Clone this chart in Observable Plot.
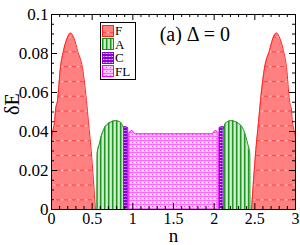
<!DOCTYPE html>
<html><head><meta charset="utf-8">
<script src="https://cdn.jsdelivr.net/npm/d3@7"></script>
<script src="https://cdn.jsdelivr.net/npm/@observablehq/plot@0.6"></script>
<style>
body{margin:0;background:#fff;}
#wrap{position:relative;width:300px;height:245px;font-family:"Liberation Serif",serif;}
#legend{position:absolute;left:100px;top:22px;width:34px;height:56px;border:1px solid #000;background:#fff;}
.row{position:absolute;left:1px;width:33px;height:13px;font-size:13px;line-height:13px;}
.row svg{position:absolute;left:0;top:0.5px;}
.row span{position:absolute;left:13px;top:0;}
</style></head><body><div id="wrap"></div>
<script>
// F (left and right)
const fLeftN = [0, 0.02, 0.037, 0.05, 0.074, 0.11, 0.148, 0.19, 0.234, 0.28, 0.32, 0.38, 0.43, 0.455, 0.488, 0.516, 0.54];
const fLeftE = [0.036, 0.041, 0.0446, 0.051, 0.0559, 0.0728, 0.0815, 0.0875, 0.0905, 0.0875, 0.0815, 0.0728, 0.0559, 0.0446, 0.0303, 0.0149, 0];
const fRightN = [2.46, 2.484, 2.512, 2.545, 2.57, 2.62, 2.68, 2.72, 2.766, 2.81, 2.852, 2.89, 2.926, 2.95, 2.963, 2.98, 3];
const fRightE = [0, 0.0149, 0.0303, 0.0446, 0.0559, 0.0728, 0.0815, 0.0875, 0.0905, 0.0875, 0.0815, 0.0728, 0.0559, 0.051, 0.0446, 0.041, 0.036];
// A
const aLeftN = [0.5599, 0.562, 0.59, 0.623, 0.66, 0.705, 0.75, 0.787, 0.82, 0.848, 0.875, 0.889];
const aLeftE = [0, 0.0287, 0.034, 0.0391, 0.0425, 0.0443, 0.0452, 0.0456, 0.0453, 0.0448, 0.043, 0.0414];
const aRightN = [2.111, 2.125, 2.152, 2.18, 2.213, 2.25, 2.295, 2.34, 2.377, 2.41, 2.438, 2.4401];
const aRightE = [0.0414, 0.043, 0.0448, 0.0453, 0.0456, 0.0452, 0.0443, 0.0425, 0.0391, 0.034, 0.0287, 0];
// C
const cLeftN = [0.8891, 0.8895, 0.937, 0.9375];
const cLeftE = [0, 0.0425, 0.042, 0];
const cRightN = [2.0625, 2.063, 2.1105, 2.1109];
const cRightE = [0, 0.042, 0.0425, 0];
// FL
const flN = [0.951, 0.952, 0.97, 0.99, 1.01, 1.03, 1.5, 1.97, 1.99, 2.01, 2.03, 2.048, 2.049];
const flE = [0, 0.039, 0.0402, 0.0405, 0.0394, 0.0388, 0.0388, 0.0388, 0.0394, 0.0405, 0.0402, 0.039, 0];
// axes
const xMajor = [0, 0.5, 1, 1.5, 2, 2.5, 3];
const xMinor = d3.range(0, 31).map(i => i / 10);
const yMajor = [0, 0.02, 0.04, 0.06, 0.08, 0.1];
const yMinor = d3.range(0, 21).map(i => i * 0.005);
const yTickLabels = ["0", "0.02", "0.04", "0.06", "0.08", "0.1"];
const legendNames = ["F", "A", "C", "FL"];
const legendPats = ["patF", "patA", "patC", "patFL"];
const legendStrokes = ["#ff2020", "#169016", "#8a00d0", "#ff00ff"];
const panelText = "(a) \u0394 = 0";

const zip = (N, E) => N.map((n, i) => ({n, e: E[i]}));
const series = [
  {d: zip(fLeftN, fLeftE), fill: "url(#patF)", stroke: "#ff2020"},
  {d: zip(fRightN, fRightE), fill: "url(#patF)", stroke: "#ff2020"},
  {d: zip(aLeftN, aLeftE), fill: "url(#patA)", stroke: "#169016"},
  {d: zip(aRightN, aRightE), fill: "url(#patA)", stroke: "#169016"},
  {d: zip(cLeftN, cLeftE), fill: "url(#patC)", stroke: "#8a00d0"},
  {d: zip(cRightN, cRightE), fill: "url(#patC)", stroke: "#8a00d0"},
  {d: zip(flN, flE), fill: "url(#patFL)", stroke: "#ff00ff"}
];
const W = 300, H = 245, mL = 51, mR = 5, mT = 14, mB = 36;
const pw = W - mL - mR, ph = H - mT - mB;
const marks = [];
for (const s of series) {
  marks.push(Plot.areaY(s.d, {x: "n", y: "e", fill: s.fill, curve: "monotone-x"}));
  marks.push(Plot.lineY(s.d, {x: "n", y: "e", stroke: s.stroke, strokeWidth: 1, curve: "monotone-x"}));
}
const isMajX = v => xMajor.some(m => Math.abs(m - v) < 1e-9);
const isMajY = v => yMajor.some(m => Math.abs(m - v) < 1e-9);
marks.push(
  Plot.ruleX(xMinor.filter(v => !isMajX(v)), {x: d => d, insetTop: ph - 3, stroke: "#000"}),
  Plot.ruleX(xMajor, {x: d => d, insetTop: ph - 6, stroke: "#000"}),
  Plot.ruleX(xMinor.filter(v => !isMajX(v)), {x: d => d, insetBottom: ph - 3, stroke: "#000"}),
  Plot.ruleX(xMajor, {x: d => d, insetBottom: ph - 6, stroke: "#000"}),
  Plot.ruleY(yMinor.filter(v => !isMajY(v)), {y: d => d, insetRight: pw - 3, stroke: "#000"}),
  Plot.ruleY(yMajor, {y: d => d, insetRight: pw - 6, stroke: "#000"}),
  Plot.ruleY(yMinor.filter(v => !isMajY(v)), {y: d => d, insetLeft: pw - 3, stroke: "#000"}),
  Plot.ruleY(yMajor, {y: d => d, insetLeft: pw - 6, stroke: "#000"}),
  Plot.frame({stroke: "#000", strokeWidth: 1}),
  Plot.axisX(xMajor, {tickSize: 0, tickPadding: 3, fontSize: 16, tickFormat: d => String(d), label: null}),
  Plot.axisY(yMajor, {tickSize: 0, tickPadding: 3, fontSize: 17, tickFormat: (d, i) => yTickLabels[i], label: null}),
  Plot.text([panelText], {x: 1.33, y: 0.0895, text: d => d, textAnchor: "start", fontSize: 20}),
  Plot.text(["\u03b4E"], {frameAnchor: "left", text: d => d, rotate: -90, dx: -39, dy: 3, fontSize: 20}),
  Plot.text(["n"], {frameAnchor: "bottom", lineAnchor: "bottom", text: d => d, dy: 32, fontSize: 19})
);
const chart = Plot.plot({
  width: W, height: H, marginLeft: mL, marginRight: mR, marginTop: mT, marginBottom: mB,
  x: {domain: [0, 3], axis: null},
  y: {domain: [0, 0.1], axis: null},
  style: {fontFamily: "Liberation Serif, serif", background: "#fff", color: "#000", overflow: "visible"},
  marks
});
const defs = d3.select(chart).insert("defs", ":first-child");
// F pattern
const pF = defs.append("pattern").attr("id", "patF").attr("patternUnits", "userSpaceOnUse").attr("width", 8).attr("height", 14.8);
pF.append("rect").attr("width", 8).attr("height", 14.8).attr("fill", "#ff8080");
pF.append("rect").attr("x", 0).attr("y", 7).attr("width", 4).attr("height", 1).attr("fill", "#ff4040");
pF.append("rect").attr("x", 5.5).attr("y", 7).attr("width", 1.2).attr("height", 1).attr("fill", "#ffffff");
// A pattern
const pA = defs.append("pattern").attr("id", "patA").attr("patternUnits", "userSpaceOnUse").attr("width", 4).attr("height", 4);
pA.append("rect").attr("width", 4).attr("height", 4).attr("fill", "#9ad89a");
pA.append("rect").attr("x", 0).attr("width", 1.3).attr("height", 4).attr("fill", "#229622");
pA.append("rect").attr("x", 2.4).attr("width", 1).attr("height", 4).attr("fill", "#f0fbf0");
// C pattern
const pC = defs.append("pattern").attr("id", "patC").attr("patternUnits", "userSpaceOnUse").attr("width", 3).attr("height", 3);
pC.append("rect").attr("width", 3).attr("height", 3).attr("fill", "#8a00d0");
pC.append("rect").attr("y", 1).attr("width", 3).attr("height", 0.8).attr("fill", "#c27cff");
pC.append("rect").attr("x", 1).attr("y", 1).attr("width", 0.8).attr("height", 0.8).attr("fill", "#ffffff");
// FL pattern
const pL = defs.append("pattern").attr("id", "patFL").attr("patternUnits", "userSpaceOnUse").attr("width", 4).attr("height", 4);
pL.append("rect").attr("width", 4).attr("height", 4).attr("fill", "#ffc0ff");
pL.append("rect").attr("x", 0).attr("y", 0).attr("width", 4).attr("height", 0.8).attr("fill", "#ff50ff");
pL.append("rect").attr("x", 0).attr("y", 2).attr("width", 1).attr("height", 1).attr("fill", "#ff50ff");
pL.append("rect").attr("x", 2).attr("y", 2).attr("width", 1).attr("height", 1).attr("fill", "#ffffff");
const wrap = document.getElementById("wrap");
wrap.appendChild(chart);
const leg = document.createElement("div");
leg.id = "legend";
legendNames.forEach((name, i) => {
  const row = document.createElement("div");
  row.className = "row";
  row.style.top = (1 + i * 13.5) + "px";
  row.innerHTML = `<svg width="12" height="12"><rect x="0.5" y="0.5" width="11" height="11" fill="url(#${legendPats[i]})" stroke="${legendStrokes[i]}" stroke-width="1"/></svg><span>${name}</span>`;
  leg.appendChild(row);
});
wrap.appendChild(leg);
</script></body></html>
